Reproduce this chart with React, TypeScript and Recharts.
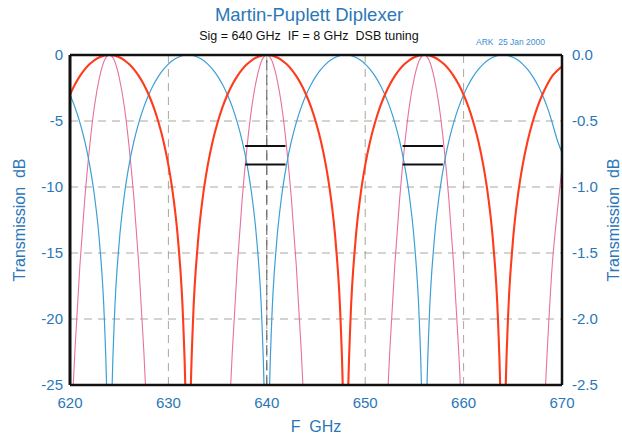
import React from "react"
import {
	LineChart,
	Line,
	XAxis,
	YAxis,
	CartesianGrid,
	ReferenceLine
} from "recharts"

// frequency samples (GHz), denser around the nulls
const FREQ_GHZ = [
	620, 620.5, 621, 621.5, 622, 622.5, 623, 623.5, 623.75,
	624, 624.25, 624.5, 625, 625.5, 626, 626.5, 627, 627.5, 628, 628.5, 629, 629.5, 630, 630.5, 631, 631.5, 631.75,
	632, 632.25, 632.5, 633, 633.5, 634, 634.5, 635, 635.5, 636, 636.5, 637, 637.5, 638, 638.5, 639, 639.5, 639.75,
	640, 640.25, 640.5, 641, 641.5, 642, 642.5, 643, 643.5, 644, 644.5, 645, 645.5, 646, 646.5, 647, 647.5, 647.75,
	648, 648.25, 648.5, 649, 649.5, 650, 650.5, 651, 651.5, 652, 652.5, 653, 653.5, 654, 654.5, 655, 655.5, 655.75,
	656, 656.25, 656.5, 657, 657.5, 658, 658.5, 659, 659.5, 660, 660.5, 661, 661.5, 662, 662.5, 663, 663.5, 663.75,
	664, 664.25, 664.5, 665, 665.5, 666, 666.5, 667, 667.5, 668, 668.5, 669, 669.5, 670
]

// signal port transmission, dB (red, also drawn on the right axis in pink)
const SIGNAL_DB = [
	-3.01, -2.24, -1.6, -1.09, -0.69, -0.38, -0.17, -0.04, -0.01,
	0, -0.01, -0.04, -0.17, -0.38, -0.69, -1.09, -1.6, -2.24, -3.01, -3.95, -5.11, -6.53, -8.34, -10.74, -14.2, -20.17, -26.18,
	-40, -26.18, -20.17, -14.2, -10.74, -8.34, -6.53, -5.11, -3.95, -3.01, -2.24, -1.6, -1.09, -0.69, -0.38, -0.17, -0.04, -0.01,
	0, -0.01, -0.04, -0.17, -0.38, -0.69, -1.09, -1.6, -2.24, -3.01, -3.95, -5.11, -6.53, -8.34, -10.74, -14.2, -20.17, -26.18,
	-40, -26.18, -20.17, -14.2, -10.74, -8.34, -6.53, -5.11, -3.95, -3.01, -2.24, -1.6, -1.09, -0.69, -0.38, -0.17, -0.04, -0.01,
	0, -0.01, -0.04, -0.17, -0.38, -0.69, -1.09, -1.6, -2.24, -3.01, -3.95, -5.11, -6.53, -8.34, -10.74, -14.2, -20.17, -26.18,
	-40, -26.18, -20.17, -14.2, -10.74, -8.34, -6.53, -5.11, -3.95, -3.01, -2.24, -1.6, -1.2, -0.85
]

// LO port transmission, dB (blue)
const LO_DB = [
	-3.01, -3.95, -5.11, -6.53, -8.34, -10.74, -14.2, -20.17, -26.18,
	-40, -26.18, -20.17, -14.2, -10.74, -8.34, -6.53, -5.11, -3.95, -3.01, -2.24, -1.6, -1.09, -0.69, -0.38, -0.17, -0.04, -0.01,
	0, -0.01, -0.04, -0.17, -0.38, -0.69, -1.09, -1.6, -2.24, -3.01, -3.95, -5.11, -6.53, -8.34, -10.74, -14.2, -20.17, -26.18,
	-40, -26.18, -20.17, -14.2, -10.74, -8.34, -6.53, -5.11, -3.95, -3.01, -2.24, -1.6, -1.09, -0.69, -0.38, -0.17, -0.04, -0.01,
	0, -0.01, -0.04, -0.17, -0.38, -0.69, -1.09, -1.6, -2.24, -3.01, -3.95, -5.11, -6.53, -8.34, -10.74, -14.2, -20.17, -26.18,
	-40, -26.18, -20.17, -14.2, -10.74, -8.34, -6.53, -5.11, -3.95, -3.01, -2.24, -1.6, -1.09, -0.69, -0.38, -0.17, -0.04, -0.01,
	0, -0.01, -0.04, -0.17, -0.38, -0.69, -1.09, -1.6, -2.24, -3.01, -3.95, -5.11, -6.4, -7.4
]

// sideband markers: [from GHz, to GHz]
const BANDS = [
	[637.8, 641.9],
	[653.8, 657.9]
]
const BAND_LEVELS_DB = [-6.9, -8.3]

const X_TICKS = [620, 630, 640, 650, 660, 670]
const LEFT_TICKS = [0, -5, -10, -15, -20, -25]
const RIGHT_TICKS = [0, -0.5, -1, -1.5, -2, -2.5]

const DATA = FREQ_GHZ.map((f, i) => ({ f, sig: SIGNAL_DB[i], lo: LO_DB[i] }))

const FONT = "'Liberation Sans', Arial, sans-serif"
const BLUE_TEXT = "#2a77b8"
const tickStyle = { fill: BLUE_TEXT, fontSize: 15, fontFamily: FONT }

export default function App() {
	return (
		<div style={{ position: "relative", width: 622, height: 434, background: "#fff", fontFamily: FONT }}>
			<style>{"body{margin:0}"}</style>

			<div style={{ position: "absolute", left: 0, top: 4, width: 618, textAlign: "center", fontSize: 18.5, lineHeight: "21px", color: BLUE_TEXT }}>
				Martin-Puplett Diplexer
			</div>
			<div style={{ position: "absolute", left: 0, top: 29, width: 618, textAlign: "center", fontSize: 12.5, lineHeight: "14px", color: "#111" }}>
				Sig = 640 GHz&nbsp; IF = 8 GHz&nbsp; DSB tuning
			</div>
			<div style={{ position: "absolute", left: 476, top: 37, fontSize: 8.5, lineHeight: "10px", color: "#3b8fd0" }}>
				ARK&nbsp; 25 Jan 2000
			</div>

			<LineChart width={622} height={434} data={DATA} margin={{ top: 55, right: 0, bottom: 0, left: 0 }}>
				<CartesianGrid yAxisId="left" stroke="#aaa69c" strokeDasharray="8 6" strokeWidth={1} />
				<XAxis
					dataKey="f"
					type="number"
					domain={[620, 670]}
					ticks={X_TICKS}
					allowDataOverflow
					height={49}
					tickSize={0}
					tickMargin={12}
					tickLine={false}
					axisLine={{ stroke: "#111", strokeWidth: 2.5 }}
					tick={tickStyle}
				/>
				<YAxis
					yAxisId="left"
					domain={[-25, 0]}
					ticks={LEFT_TICKS}
					allowDataOverflow
					width={70}
					tickSize={0}
					tickMargin={7}
					tickLine={false}
					axisLine={{ stroke: "#111", strokeWidth: 3 }}
					tick={tickStyle}
				/>
				<YAxis
					yAxisId="right"
					orientation="right"
					domain={[-2.5, 0]}
					ticks={RIGHT_TICKS}
					tickFormatter={(v: number) => v.toFixed(1)}
					allowDataOverflow
					width={60}
					tickSize={0}
					tickMargin={10}
					tickLine={false}
					axisLine={{ stroke: "#111", strokeWidth: 2.5 }}
					tick={tickStyle}
				/>

				<ReferenceLine yAxisId="left" x={640} stroke="#555" strokeDasharray="10 5" strokeWidth={1} />

				<Line yAxisId="right" dataKey="sig" type="monotone" stroke="#e8719f" strokeWidth={1.1} dot={false} activeDot={false} isAnimationActive={false} />
				<Line yAxisId="left" dataKey="lo" type="monotone" stroke="#3c9fd6" strokeWidth={1.2} dot={false} activeDot={false} isAnimationActive={false} />
				<Line yAxisId="left" dataKey="sig" type="monotone" stroke="#ff3b1c" strokeWidth={2.1} dot={false} activeDot={false} isAnimationActive={false} />

				{BANDS.map((b, i) =>
					BAND_LEVELS_DB.map((lvl, j) => (
						<ReferenceLine
							key={`${i}-${j}`}
							yAxisId="left"
							segment={[{ x: b[0], y: lvl }, { x: b[1], y: lvl }]}
							stroke="#111"
							strokeWidth={2}
						/>
					))
				)}

				<ReferenceLine yAxisId="left" y={0} stroke="#111" strokeWidth={2.5} />
			</LineChart>

			<div style={{ position: "absolute", left: -80, top: 211, width: 200, height: 18, lineHeight: "18px", textAlign: "center", fontSize: 16, color: BLUE_TEXT, transform: "rotate(-90deg)" }}>
				Transmission&nbsp; dB
			</div>
			<div style={{ position: "absolute", left: 514, top: 211, width: 200, height: 18, lineHeight: "18px", textAlign: "center", fontSize: 16, color: BLUE_TEXT, transform: "rotate(-90deg)" }}>
				Transmission&nbsp; dB
			</div>
			<div style={{ position: "absolute", left: 266, top: 418, width: 100, textAlign: "center", fontSize: 16, lineHeight: "18px", color: BLUE_TEXT }}>
				F&nbsp; GHz
			</div>
		</div>
	)
}
